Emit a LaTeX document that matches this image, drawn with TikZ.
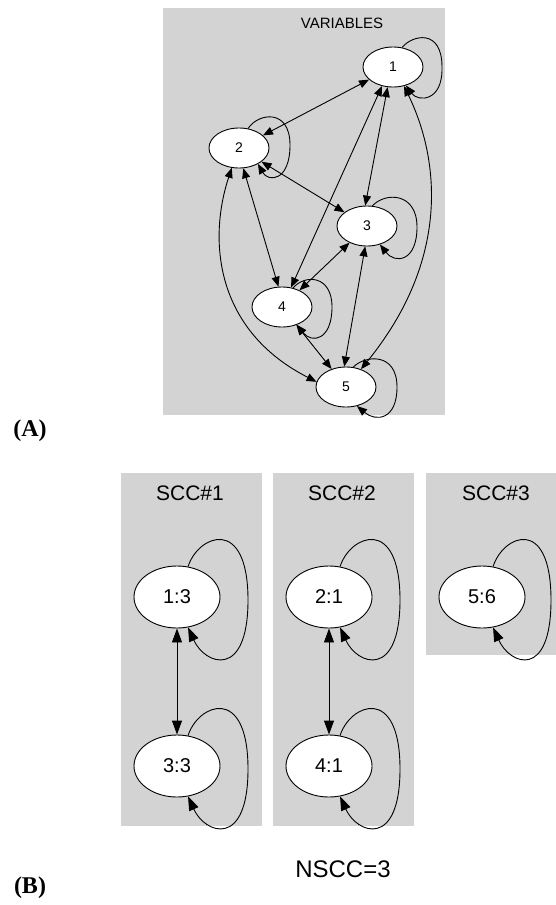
\documentclass[tikz,border=0pt]{standalone}
\usepackage{fontspec}
\setmainfont{Liberation Sans}
\newfontfamily\serifbold{Liberation Serif}
\usetikzlibrary{shapes.geometric,arrows.meta}
\definecolor{clgray}{RGB}{211,211,211}
\tikzset{
  panel/.style={fill=clgray,draw=none},
  vnode/.style={ellipse,draw,fill=white,line width=0.9pt,minimum width=60pt,minimum height=40pt,inner sep=0pt,font=\fontsize{14}{16}\selectfont},
  snode/.style={ellipse,draw,fill=white,line width=0.9pt,minimum width=86pt,minimum height=62pt,inner sep=0pt,font=\fontsize{20}{22}\selectfont},
  tip/.tip={Triangle[length=10pt,width=8pt]},
  bigtip/.tip={Triangle[length=14pt,width=10pt]},
  edge1/.style={line width=0.9pt,-tip},
  edge2/.style={line width=0.9pt,tip-tip},
  sedge1/.style={line width=0.9pt,-bigtip},
  sedge2/.style={line width=0.9pt,bigtip-bigtip},
  ttl/.style={font=\fontsize{15}{17}\selectfont},
  sttl/.style={font=\fontsize{21}{24}\selectfont},
  lbl/.style={font=\serifbold\bfseries\fontsize{24}{26}\selectfont}
}
\begin{document}
\begin{tikzpicture}[x=1pt,y=-1pt]
\useasboundingbox (0,0) rectangle (556,905);
% panels
\fill[panel] (163,8) rectangle (445,415);
\fill[panel] (121,473) rectangle (262,826);
\fill[panel] (273,473) rectangle (414,826);
\fill[panel] (426,473) rectangle (556,655);
\node[ttl] (tv) at (342,23) {VARIABLES};
\node[sttl] (t1) at (190,493) {SCC\#1};
\node[sttl] (t2) at (342,493) {SCC\#2};
\node[sttl] (t3) at (496,493) {SCC\#3};
\node[font=\fontsize{24}{26}\selectfont] (ns) at (343,869) {NSCC=3};
\node[lbl] (la) at (30,431) {(A)};
\node[lbl] (lb) at (30,888) {(B)};
% top graph
\node[vnode] (n1) at (393,67) {1};
\node[vnode] (n2) at (239,148) {2};
\node[vnode] (n3) at (367,226) {3};
\node[vnode] (n4) at (282,307) {4};
\node[vnode] (n5) at (346,387) {5};
\draw[edge2] (n1) -- (n2);
\draw[edge2] (n1.255) -- (n3.95);
\draw[edge2] (n1.240) -- (n4.65);
\draw[edge2] (n2) -- (n3);
\draw[edge2] (n2.282) -- (n4.100);
\draw[edge2] (n2.250) .. controls (208,240) and (215,330) .. (n5.170);
\draw[edge2] (n1.300) .. controls (440,160) and (450,260) .. (n5.50);
\draw[edge2] (n3) -- (n4);
\draw[edge2] (n3.265) -- (n5.95);
\draw[edge2] (n4) -- (n5);
\draw[edge1] (n1.65) .. controls (412,35) and (442,28) .. (442,67) .. controls (443,102) and (418,102) .. (n1.305);
\draw[edge1] (n2.65) .. controls (258,113) and (290,108) .. (290,145) .. controls (290,182) and (268,182) .. (n2.320);
\draw[edge1] (n3.75) .. controls (385,192) and (417,192) .. (417,227) .. controls (417,262) and (395,264) .. (n3.305);
\draw[edge1] (n4.60) .. controls (305,274) and (332,275) .. (332,307) .. controls (332,340) and (312,344) .. (n4.310);
\draw[edge1] (n5.70) .. controls (365,355) and (397,352) .. (397,387) .. controls (397,420) and (376,422) .. (n5.300);
% bottom graphs
\node[snode] (n13) at (177,597) {1:3};
\node[snode] (n33) at (177,766) {3:3};
\node[snode] (n21) at (329,597) {2:1};
\node[snode] (n41) at (329,766) {4:1};
\node[snode] (n56) at (482,597) {5:6};
\draw[sedge2] (n13) -- (n33);
\draw[sedge2] (n21) -- (n41);
\draw[sedge1] (n13.70) .. controls (198,535) and (248,515) .. (248,600) .. controls (248,680) and (205,665) .. (n13.290);
\draw[sedge1] (n33.70) .. controls (198,704) and (248,684) .. (248,769) .. controls (248,849) and (205,834) .. (n33.290);
\draw[sedge1] (n21.70) .. controls (350,535) and (400,515) .. (400,600) .. controls (400,680) and (357,665) .. (n21.290);
\draw[sedge1] (n41.70) .. controls (350,704) and (400,684) .. (400,769) .. controls (400,849) and (357,834) .. (n41.290);
\draw[sedge1] (n56.70) .. controls (503,535) and (551,515) .. (551,600) .. controls (551,680) and (510,665) .. (n56.290);
\end{tikzpicture}
\end{document}
